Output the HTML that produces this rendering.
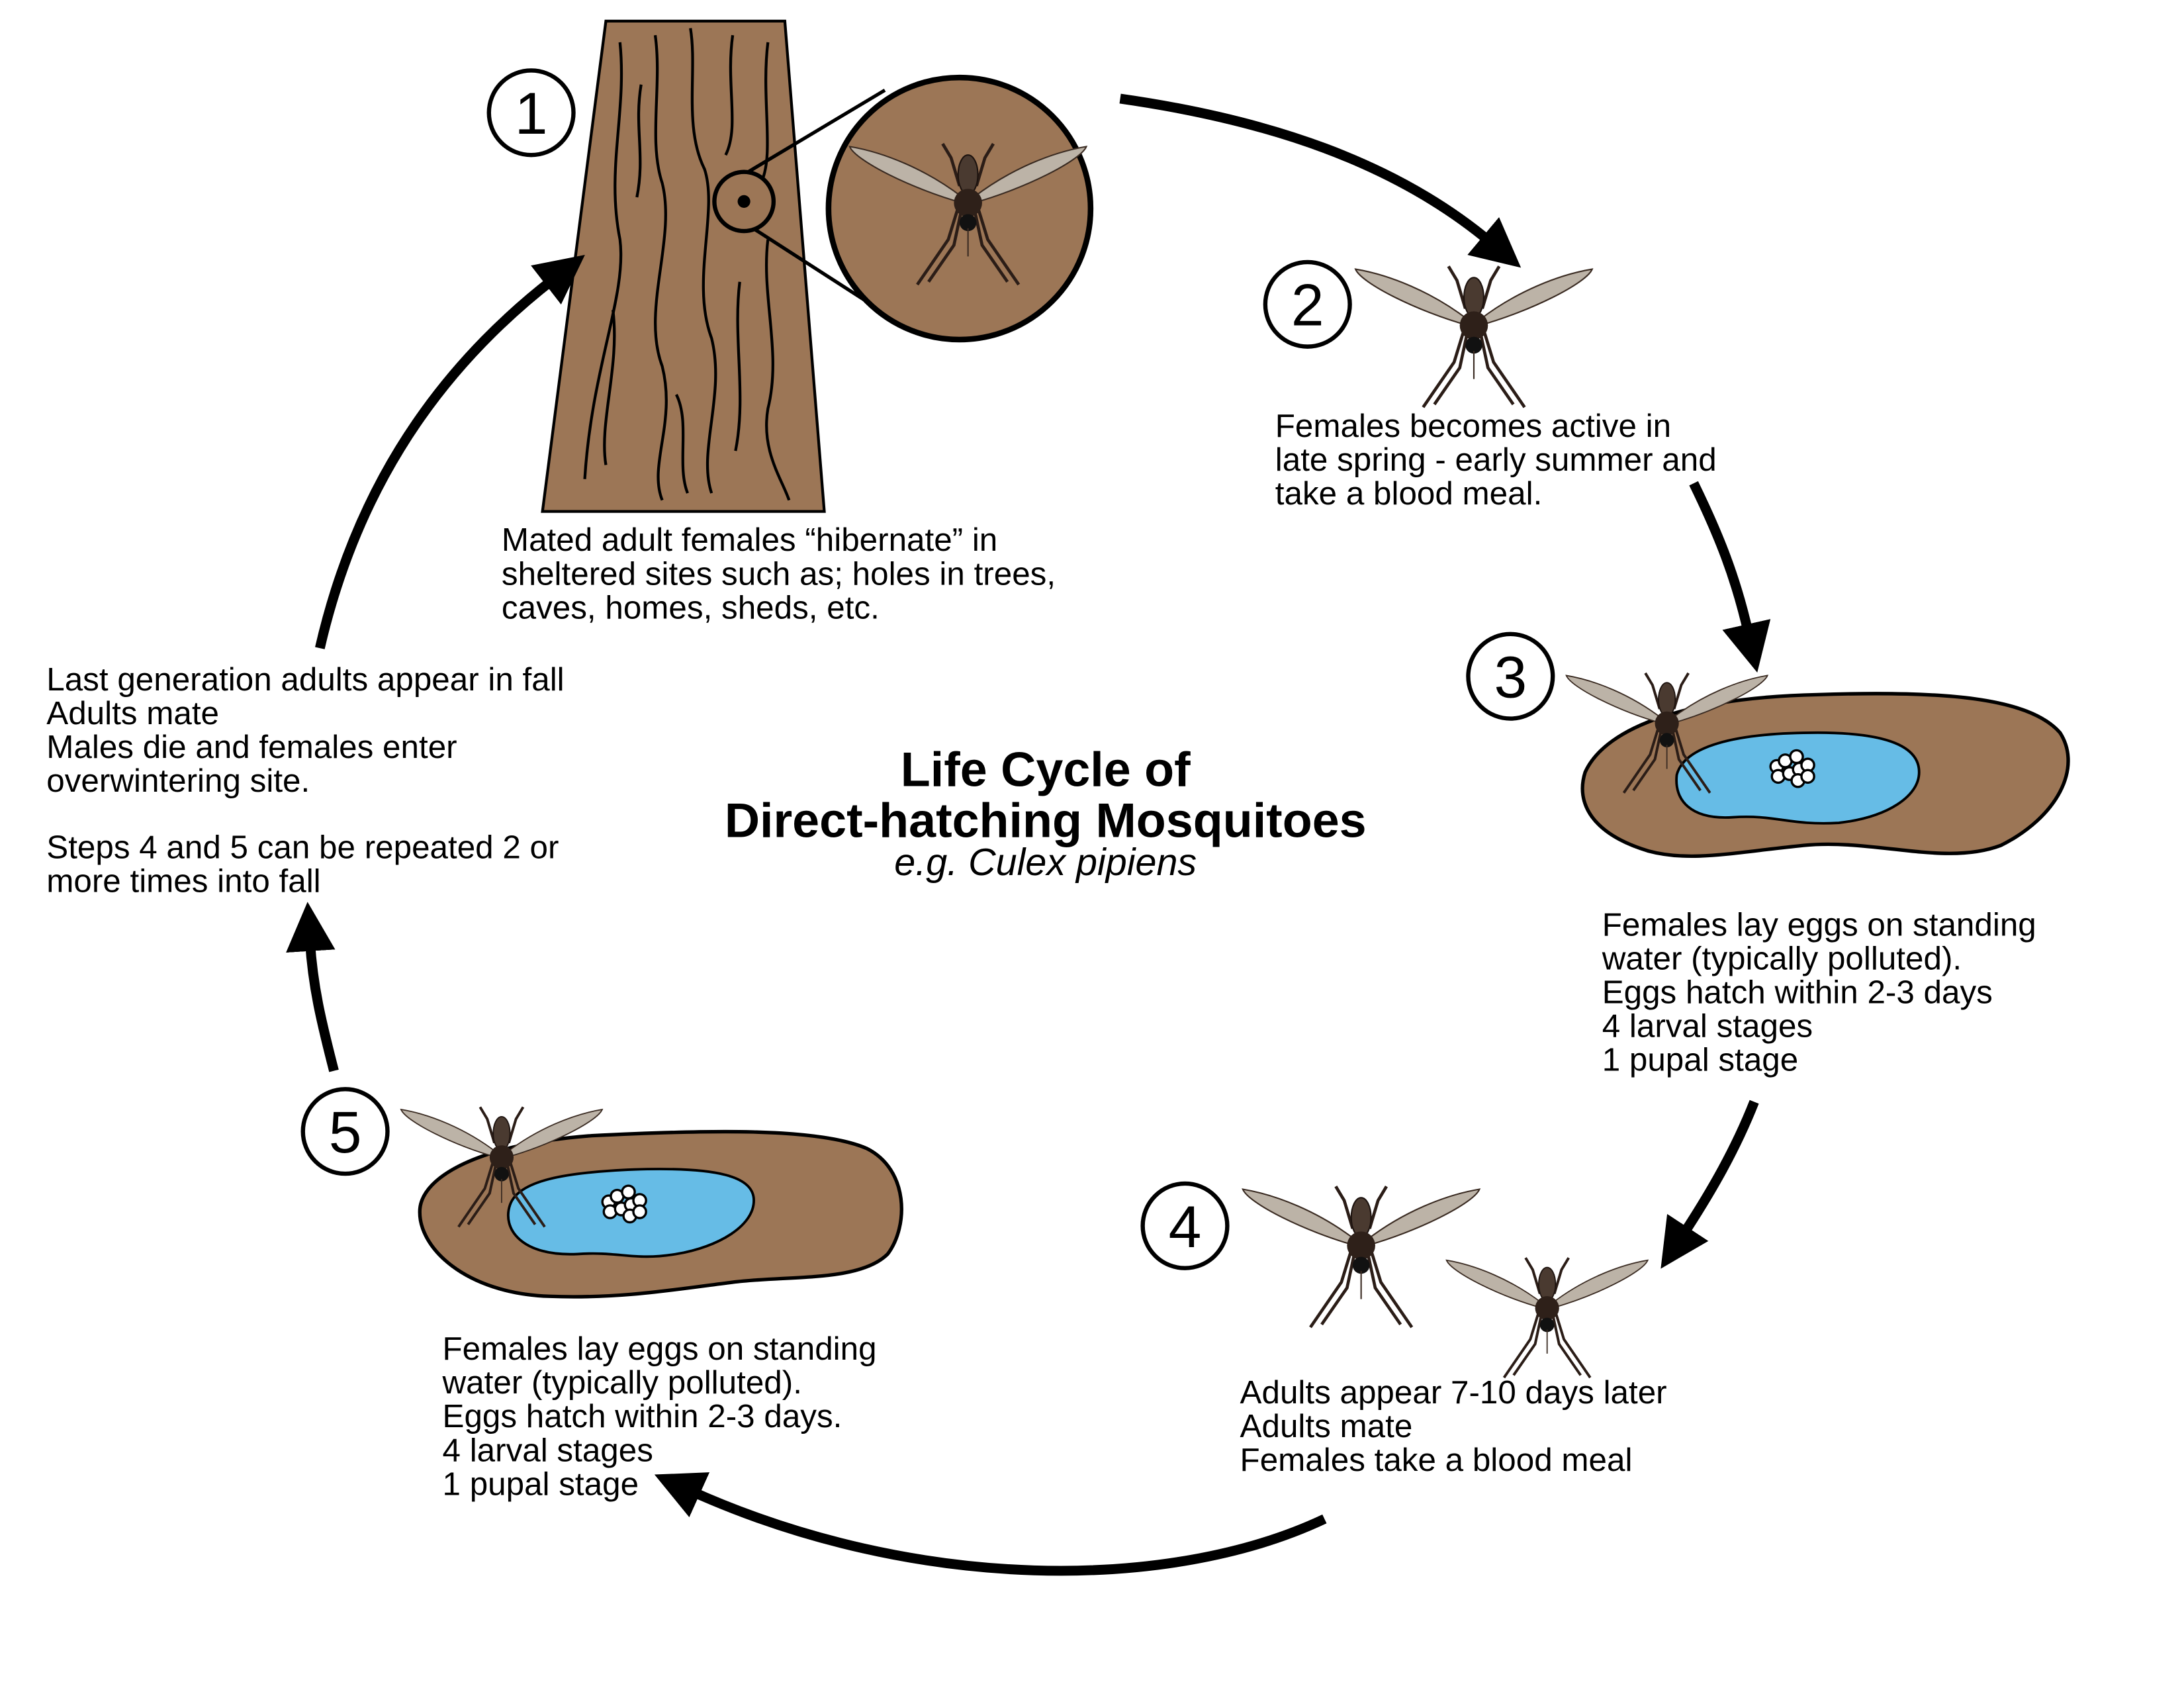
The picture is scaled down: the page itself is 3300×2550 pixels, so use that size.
<!DOCTYPE html>
<html><head><meta charset="utf-8"><style>
html,body{margin:0;padding:0;background:#fff;}
svg{display:block}
text{font-family:"Liberation Sans",Arial,sans-serif;fill:#000}
.t{font-size:23.2px}
</style></head><body>
<svg width="3300" height="2550" viewBox="0 0 1550 1198" preserveAspectRatio="none" xmlns="http://www.w3.org/2000/svg">
<defs>
<marker id="ah" markerWidth="5" markerHeight="5" refX="1" refY="2.5" orient="auto" markerUnits="strokeWidth">
<path d="M0,0 L5,2.5 L0,5 Z" fill="#000"/>
</marker>
<g id="mq">
<path d="M-4,0 C-30,-20 -60,-32 -84,-36 C-80,-26 -40,-6 -4,4 Z" fill="#bcb3a7" stroke="#3a2b22" stroke-width="1"/>
<path d="M4,0 C30,-20 60,-32 84,-36 C80,-26 40,-6 4,4 Z" fill="#bcb3a7" stroke="#3a2b22" stroke-width="1"/>
<g stroke="#2b1d17" stroke-width="2.2" fill="none">
<path d="M-6,-8 L-12,-28 L-18,-38"/><path d="M6,-8 L12,-28 L18,-38"/>
<path d="M-6,4 L-14,30 L-36,62"/><path d="M-4,6 L-10,34 L-28,60"/>
<path d="M6,4 L14,30 L36,62"/><path d="M4,6 L10,34 L28,60"/>
</g>
<ellipse cx="0" cy="-16" rx="7" ry="14" fill="#4a3a30" stroke="#1d130f"/>
<ellipse cx="0" cy="4" rx="10" ry="10" fill="#2e2019"/>
<ellipse cx="0" cy="18" rx="6" ry="6" fill="#111"/>
<line x1="0" y1="22" x2="0" y2="42" stroke="#3a2b22" stroke-width="1"/>
</g>
<g id="eggs" fill="#fff" stroke="#000" stroke-width="1.6">
<circle cx="-12" cy="-2" r="4.5"/><circle cx="-6" cy="-6" r="4.5"/><circle cx="2" cy="-9" r="4.5"/>
<circle cx="-11" cy="5" r="4.5"/><circle cx="-3" cy="3" r="4.5"/><circle cx="4" cy="0" r="4.5"/>
<circle cx="10" cy="-3" r="4.5"/><circle cx="3" cy="8" r="4.5"/><circle cx="10" cy="5" r="4.5"/>
</g>
</defs>

<path d="M430,15 L557,15 L585,363 L385,363 Z" fill="#9c7656" stroke="#000" stroke-width="2"/>
<g stroke="#000" stroke-width="2" fill="none">
<path d="M440,30 C445,80 430,120 440,170 C445,210 420,260 415,340"/>
<path d="M465,25 C470,60 460,100 470,130 C480,170 455,220 470,260 C480,300 460,330 470,355"/>
<path d="M490,20 C495,50 485,90 500,120 C510,150 490,200 505,240 C515,280 495,320 505,350"/>
<path d="M520,25 C515,60 525,90 515,110"/>
<path d="M545,30 C540,70 550,110 540,130 M545,170 C540,210 555,250 545,290 C540,320 555,340 560,355"/>
<path d="M455,60 C450,90 458,110 452,140 M435,220 C440,260 425,300 430,330"/>
<path d="M480,280 C490,300 480,330 488,350 M525,200 C520,240 530,280 522,320"/>
</g>
<circle cx="528" cy="143" r="21" fill="#9c7656" stroke="#000" stroke-width="3"/>
<circle cx="528" cy="143" r="4.5" fill="#000"/>
<line x1="531" y1="122" x2="628" y2="64" stroke="#000" stroke-width="2.5"/>
<line x1="536" y1="163" x2="640" y2="230" stroke="#000" stroke-width="2.5"/>
<circle cx="681" cy="148" r="93" fill="#9c7656" stroke="#000" stroke-width="4"/>
<use href="#mq" transform="translate(687,140)"/>

<g fill="#fff" stroke="#000" stroke-width="3">
<circle cx="377" cy="80" r="30"/><circle cx="928" cy="216" r="30"/>
<circle cx="1072" cy="480" r="30"/><circle cx="841" cy="870" r="30"/>
<circle cx="245" cy="803" r="30"/>
</g>
<g font-size="42" text-anchor="middle">
<text x="377" y="95">1</text><text x="928" y="231">2</text>
<text x="1072" y="495">3</text><text x="841" y="885">4</text>
<text x="245" y="818">5</text>
</g>

<use href="#mq" transform="translate(1046,227)"/>

<path d="M1125,548 C1140,515 1200,495 1290,493 C1380,490 1440,495 1462,520 C1478,545 1460,580 1420,600 C1380,615 1330,595 1280,600 C1230,605 1200,612 1170,604 C1130,592 1118,570 1125,548 Z" fill="#9c7656" stroke="#000" stroke-width="2.5"/>
<path d="M1190,550 C1195,530 1230,520 1290,520 C1340,520 1362,530 1362,548 C1362,565 1340,580 1305,584 C1270,586 1260,578 1230,580 C1200,582 1188,568 1190,550 Z" fill="#66bce6" stroke="#000" stroke-width="1.8"/>
<use href="#eggs" transform="translate(1273,546)"/>
<use href="#mq" transform="translate(1183,510) scale(0.85)"/>

<path d="M298,858 C300,835 340,812 420,806 C500,802 580,800 615,815 C645,830 645,870 630,890 C610,910 560,905 520,910 C480,915 440,922 390,920 C330,918 296,885 298,858 Z" fill="#9c7656" stroke="#000" stroke-width="2.5"/>
<path d="M362,855 C368,838 400,832 450,830 C510,828 535,835 535,852 C535,870 510,885 480,890 C450,895 440,888 410,890 C370,892 356,872 362,855 Z" fill="#66bce6" stroke="#000" stroke-width="1.8"/>
<use href="#eggs" transform="translate(444,855)"/>
<use href="#mq" transform="translate(356,818) scale(0.85)"/>

<use href="#mq" transform="translate(966,880)"/>
<use href="#mq" transform="translate(1098,925) scale(0.85)"/>

<g stroke="#000" stroke-width="7" fill="none" marker-end="url(#ah)">
<path d="M795,70 C900,85 990,115 1058,172"/>
<path d="M1202,343 C1220,380 1232,410 1241,450"/>
<path d="M1245,782 C1232,815 1215,845 1194,877"/>
<path d="M940,1078 C830,1130 650,1130 490,1058"/>
<path d="M237,760 C228,725 222,700 220,668"/>
<path d="M227,460 C250,360 300,270 393,198"/>
</g>

<g class="t">
<text x="356" y="391">Mated adult females “hibernate” in</text>
<text x="356" y="415">sheltered sites such as; holes in trees,</text>
<text x="356" y="439">caves, homes, sheds, etc.</text>
<text x="905" y="310">Females becomes active in</text>
<text x="905" y="334">late spring - early summer and</text>
<text x="905" y="358">take a blood meal.</text>
<text x="1137" y="664">Females lay eggs on standing</text>
<text x="1137" y="688">water (typically polluted).</text>
<text x="1137" y="712">Eggs hatch within 2-3 days</text>
<text x="1137" y="736">4 larval stages</text>
<text x="1137" y="760">1 pupal stage</text>
<text x="880" y="996">Adults appear 7-10 days later</text>
<text x="880" y="1020">Adults mate</text>
<text x="880" y="1044">Females take a blood meal</text>
<text x="314" y="965">Females lay eggs on standing</text>
<text x="314" y="989">water (typically polluted).</text>
<text x="314" y="1013">Eggs hatch within 2-3 days.</text>
<text x="314" y="1037">4 larval stages</text>
<text x="314" y="1061">1 pupal stage</text>
<text x="33" y="490">Last generation adults appear in fall</text>
<text x="33" y="514">Adults mate</text>
<text x="33" y="538">Males die and females enter</text>
<text x="33" y="562">overwintering site.</text>
<text x="33" y="609">Steps 4 and 5 can be repeated 2 or</text>
<text x="33" y="633">more times into fall</text>
</g>
<g text-anchor="middle">
<text x="742" y="558" font-size="34.6" font-weight="bold">Life Cycle of</text>
<text x="742" y="594" font-size="34.6" font-weight="bold">Direct-hatching Mosquitoes</text>
<text x="742" y="621" font-size="27" font-style="italic">e.g. Culex pipiens</text>
</g>
</svg>
</body></html>
